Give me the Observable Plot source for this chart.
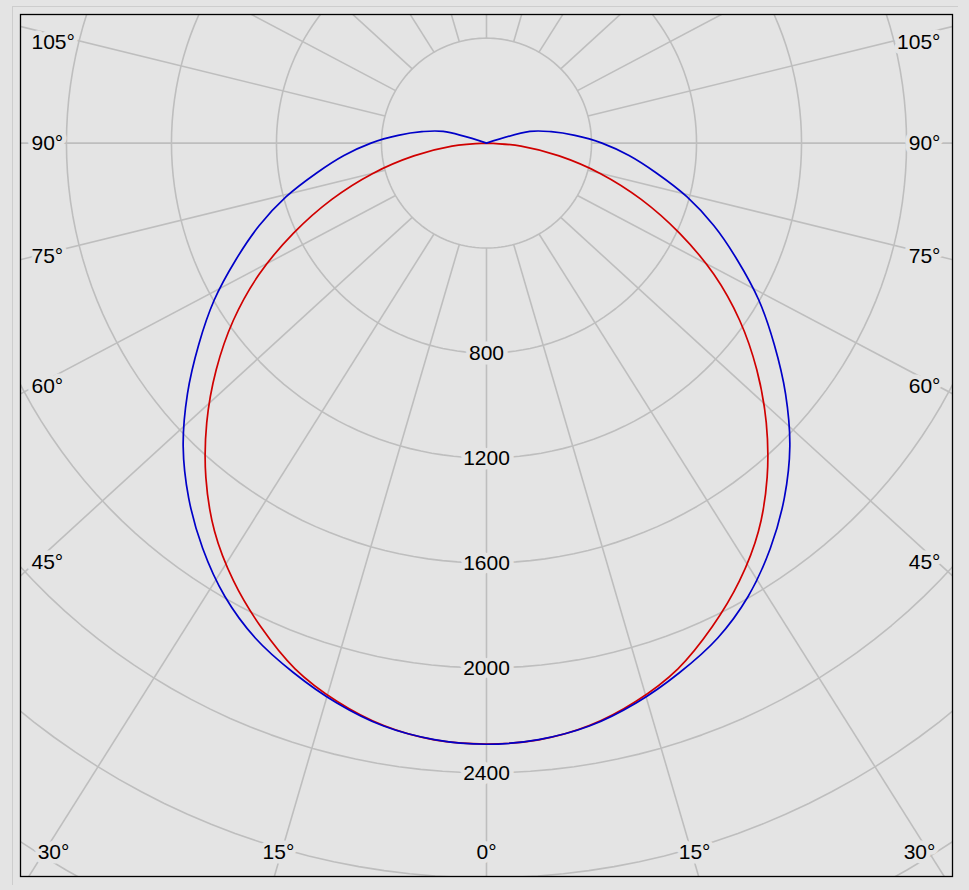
<!DOCTYPE html>
<html><head><meta charset="utf-8">
<script src="https://cdn.jsdelivr.net/npm/d3@7"></script>
<script src="https://cdn.jsdelivr.net/npm/@observablehq/plot@0.6"></script>
<style>
html,body{margin:0;padding:0;background:#e4e4e4;}
#wrap{position:relative;width:969px;height:890px;overflow:hidden;}
#edge{position:absolute;left:12px;top:6px;width:945px;height:878px;border-top:1px solid #cdcdcd;border-left:1px solid #cdcdcd;}
#chart{position:absolute;left:0;top:0;}
</style></head><body>
<div id="wrap"><div id="edge"></div><div id="chart"></div></div>
<script>
// Gamma angles (deg, 0 = straight down)
const angles = [0,5,10,15,20,25,30,35,40,45,50,55,60,65,70,75,80,85,90,95,100,105,110];
// Blue plane (cd), 0..110 deg
const blueCd = [2291,2282,2256,2208,2148,2082,1994,1885,1765,1634,1487,1338,1198,1054,922,790,657,545,440,338,250,171,0];
// Red plane (cd), 0..90 deg
const redCd = [2290,2283,2254,2202,2132,2034,1927,1806,1663,1507,1344,1177,1000,810,627,450,281,132,0];
// Grid rings and their labels (cd)
const ringValues = [400,800,1200,1600,2000,2400,2800,3200,3600];
const ringLabels = [800,1200,1600,2000,2400];
// Radial grid angles (deg)
const spokeAngles = [0,15,30,45,60,75,90,105,120,135,150,165,180,195,210,225,240,255,270,285,300,315,330,345];
const sideLabels = [45,60,75,90,105];
const bottomLabels = [0,15,30];
// Visible extent of the chart (cd)
const xDomain = [-1775, 1775];
const yDomain = [-2795, 490];

const W = 969, H = 890, mL = 20, mR = 17, mT = 14, mB = 14;
const xSpan = xDomain[1] - xDomain[0], ySpan = yDomain[1] - yDomain[0];
const k = (W - mL - mR) / xSpan; // px per cd
const rad = d => d * Math.PI / 180;
const bg = "#e4e4e4", gridColor = "#bebebe";

// curves: left half from end angle to 0, then right half 0 to end
function curve(vals, name) {
  const pts = [];
  for (let i = vals.length - 1; i >= 0; i--) pts.push({x: -vals[i] * Math.sin(rad(angles[i])), y: -vals[i] * Math.cos(rad(angles[i])), s: name});
  for (let i = 1; i < vals.length; i++) pts.push({x: vals[i] * Math.sin(rad(angles[i])), y: -vals[i] * Math.cos(rad(angles[i])), s: name});
  return pts;
}
const bluePts = curve(blueCd, "blue");
const redPts = curve(redCd, "red");

// rings
const ringPts = [];
for (const r of ringValues) for (let d = 0; d <= 360; d += 2) ringPts.push({r, x: r * Math.sin(rad(d)), y: r * Math.cos(rad(d))});

// spokes: from inner ring (true angle) outward, scaled by the frame extents
const rIn = ringValues[0];
const spoke = a => ({
  x1: -rIn * Math.sin(rad(a)), y1: -rIn * Math.cos(rad(a)),
  x2: -xSpan * Math.sin(rad(a)), y2: -ySpan * Math.cos(rad(a))
});
const spokes = spokeAngles.map(spoke);

// angle labels, placed where their spoke meets an inset band near the frame
const angleLabelData = [];
const xTargetL = xDomain[0] + 15 / k;
const yMaxLabel = yDomain[1] - 28 / k;
for (const a of sideLabels) {
  const s = spoke(a);
  const t = (xTargetL - s.x1) / (s.x2 - s.x1);
  const y = Math.min(yMaxLabel, s.y1 + t * (s.y2 - s.y1));
  angleLabelData.push({x: xDomain[0] + 11 / k, y, text: a + "°", anchor: "start"});
  angleLabelData.push({x: xDomain[1] - 12 / k, y, text: a + "°", anchor: "end"});
}
const yTargetB = yDomain[0] + 14 / k;
const yLabelB = yDomain[0] + 24 / k;
const xMinLabel = xDomain[0] + 33 / k;
for (const a of bottomLabels) {
  const s = spoke(a);
  const t = (yTargetB - s.y1) / (s.y2 - s.y1);
  const x = Math.max(xMinLabel, s.x1 + t * (s.x2 - s.x1));
  angleLabelData.push({x, y: yLabelB, text: a + "°", anchor: "middle"});
  if (a !== 0) angleLabelData.push({x: -x, y: yLabelB, text: a + "°", anchor: "middle"});
}
const ringLabelData = ringLabels.map(r => ({x: 0, y: -r, text: String(r)}));

const textOpts = {fill: "#000", stroke: bg, strokeWidth: 9, strokeLinejoin: "round", paintOrder: "stroke", fontSize: 21, fontFamily: "Liberation Sans, Arial, sans-serif"};

const chart = Plot.plot({
  width: W, height: H,
  marginLeft: mL, marginRight: mR, marginTop: mT, marginBottom: mB,
  x: {domain: xDomain, axis: null},
  y: {domain: yDomain, axis: null},
  style: {background: "transparent", overflow: "visible"},
  marks: [
    Plot.line(ringPts, {x: "x", y: "y", z: "r", stroke: gridColor, strokeWidth: 1.6, clip: true}),
    Plot.link(spokes, {x1: "x1", y1: "y1", x2: "x2", y2: "y2", stroke: gridColor, strokeWidth: 1.6, clip: true}),
    Plot.text(ringLabelData, {x: "x", y: "y", text: "text", ...textOpts}),
    Plot.text(angleLabelData.filter(d => d.anchor === "start"), {x: "x", y: "y", text: "text", textAnchor: "start", ...textOpts}),
    Plot.text(angleLabelData.filter(d => d.anchor === "end"), {x: "x", y: "y", text: "text", textAnchor: "end", ...textOpts}),
    Plot.text(angleLabelData.filter(d => d.anchor === "middle"), {x: "x", y: "y", text: "text", ...textOpts}),
    Plot.line(redPts, {x: "x", y: "y", stroke: "#d00000", strokeWidth: 1.7, curve: "catmull-rom", clip: true}),
    Plot.line(bluePts, {x: "x", y: "y", stroke: "#0000c8", strokeWidth: 1.7, curve: "catmull-rom", clip: true}),
    Plot.frame({stroke: "#000", strokeWidth: 1.3})
  ]
});
document.getElementById("chart").appendChild(chart);
</script>
</body></html>
